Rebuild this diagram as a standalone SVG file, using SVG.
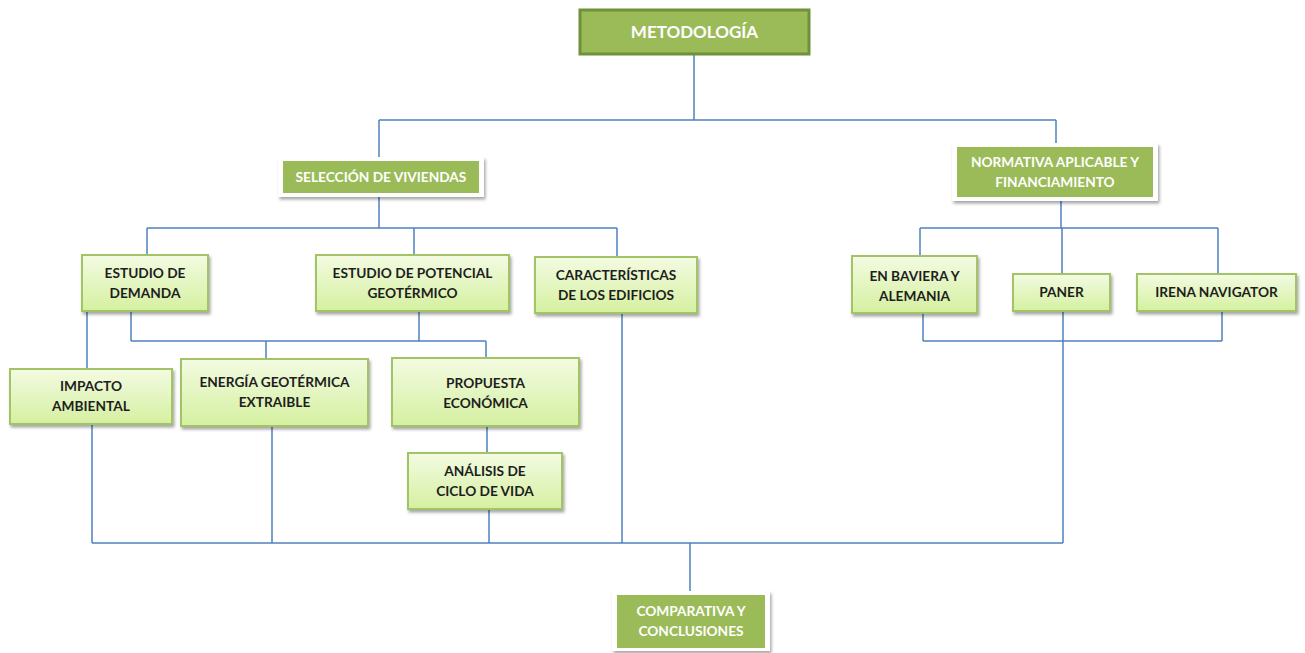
<svg xmlns="http://www.w3.org/2000/svg" width="1305" height="653" viewBox="0 0 1305 653">
<defs>
<linearGradient id="lg" x1="0" y1="0" x2="0" y2="1">
<stop offset="0" stop-color="#f3fbe2"/>
<stop offset="1" stop-color="#d5f0a0"/>
</linearGradient>
<filter id="sh" x="-10%" y="-10%" width="130%" height="140%">
<feDropShadow dx="1.5" dy="2.5" stdDeviation="1.5" flood-color="#000" flood-opacity="0.35"/>
</filter>
</defs>
<style>
.lt{fill:url(#lg);stroke:#a3c466;stroke-width:2;filter:url(#sh)}
.frame{fill:#fff;filter:url(#sh)}
.dg{fill:#9bbb59}
.top{fill:#9bbb59;stroke:#6e9139;stroke-width:3}
.t{font-family:Lato,"Liberation Sans",sans-serif;font-weight:bold;font-size:13.7px;fill:#1e1e1e;text-anchor:middle}
.w{font-family:Lato,"Liberation Sans",sans-serif;font-weight:bold;font-size:13.7px;fill:#fff;text-anchor:middle}
.w16{font-family:Lato,"Liberation Sans",sans-serif;font-weight:bold;font-size:17px;fill:#fff;text-anchor:middle}
.c{fill:none;stroke:#4f81bd;stroke-width:1.5}
</style>
<g id="connectors">
<path class="c" d="M694 55V120M379 120H1056M379 120V160M1056 120V147"/>
<path class="c" d="M379 197V228M147 228H617M147 228V255M414 228V255M617 228V257"/>
<path class="c" d="M1061 197V228M920 228H1218M920 228V256M1062 228V274M1218 228V274"/>
<path class="c" d="M87 311V369M131 311V341M131 341H486M419 311V341M266 341V359M486 341V358M487 426V453"/>
<path class="c" d="M923 313V341M923 341H1222M1222 311V341M1063 311V543"/>
<path class="c" d="M92 424V543M272 426V543M489 509V543M622 313V543M92 543H1063M690 543V595"/>
</g>
<g id="metodologia">
<rect class="top" x="580" y="10" width="229" height="44"/>
<text class="w16" x="694.5" y="38">METODOLOGÍA</text>
</g>
<g id="seleccion">
<rect class="frame" x="278" y="157" width="206" height="40"/>
<rect class="dg" x="283" y="161" width="196" height="32"/>
<text class="w" x="381" y="182">SELECCIÓN DE VIVIENDAS</text>
</g>
<g id="normativa">
<rect class="frame" x="952" y="143" width="206" height="58"/>
<rect class="dg" x="957" y="147" width="196" height="50"/>
<text class="w" x="1055" y="167">NORMATIVA APLICABLE Y</text>
<text class="w" x="1055" y="187">FINANCIAMIENTO</text>
</g>
<g id="estudio-demanda">
<rect class="lt" x="82" y="255" width="126" height="56"/>
<text class="t" x="145" y="278">ESTUDIO DE</text>
<text class="t" x="145" y="298">DEMANDA</text>
</g>
<g id="estudio-potencial">
<rect class="lt" x="316" y="255" width="193" height="56"/>
<text class="t" x="412.5" y="278">ESTUDIO DE POTENCIAL</text>
<text class="t" x="412.5" y="298">GEOTÉRMICO</text>
</g>
<g id="caracteristicas">
<rect class="lt" x="535" y="257" width="162" height="56"/>
<text class="t" x="616" y="280">CARACTERÍSTICAS</text>
<text class="t" x="616" y="300">DE LOS EDIFICIOS</text>
</g>
<g id="impacto">
<rect class="lt" x="10" y="369" width="162" height="55"/>
<text class="t" x="91" y="391">IMPACTO</text>
<text class="t" x="91" y="411">AMBIENTAL</text>
</g>
<g id="energia">
<rect class="lt" x="181" y="359" width="187" height="67"/>
<text class="t" x="274.5" y="387">ENERGÍA GEOTÉRMICA</text>
<text class="t" x="274.5" y="407">EXTRAIBLE</text>
</g>
<g id="propuesta">
<rect class="lt" x="392" y="358" width="187" height="68"/>
<text class="t" x="485.5" y="388">PROPUESTA</text>
<text class="t" x="485.5" y="408">ECONÓMICA</text>
</g>
<g id="analisis">
<rect class="lt" x="408" y="453" width="154" height="56"/>
<text class="t" x="485" y="476">ANÁLISIS DE</text>
<text class="t" x="485" y="496">CICLO DE VIDA</text>
</g>
<g id="baviera">
<rect class="lt" x="852" y="256" width="125" height="57"/>
<text class="t" x="914.5" y="281">EN BAVIERA Y</text>
<text class="t" x="914.5" y="301">ALEMANIA</text>
</g>
<g id="paner">
<rect class="lt" x="1013" y="274" width="97" height="37"/>
<text class="t" x="1061.5" y="297">PANER</text>
</g>
<g id="irena">
<rect class="lt" x="1137" y="274" width="159" height="37"/>
<text class="t" x="1216.5" y="297">IRENA NAVIGATOR</text>
</g>
<g id="comparativa">
<rect class="frame" x="612" y="591" width="158" height="60"/>
<rect class="dg" x="617" y="595" width="148" height="53"/>
<text class="w" x="691" y="616">COMPARATIVA Y</text>
<text class="w" x="691" y="636">CONCLUSIONES</text>
</g>
</svg>
